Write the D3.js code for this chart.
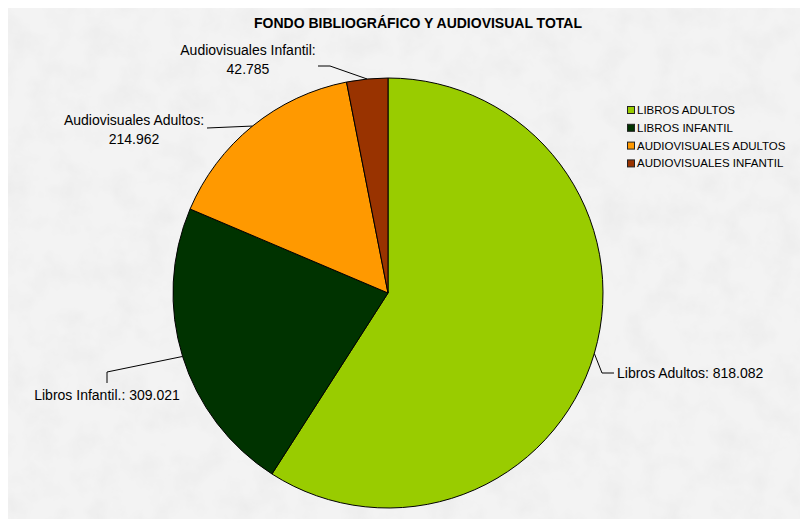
<!DOCTYPE html>
<html>
<head>
<meta charset="utf-8">
<script src="https://cdn.jsdelivr.net/npm/d3@7"></script>
<style>
  body { margin: 0; background: #fff; }
  text { font-family: "Liberation Sans", Arial, sans-serif; fill: #000; }
</style>
</head>
<body>
<div id="vis-container"></div>
<script>
// Data
const categories = ["LIBROS ADULTOS", "LIBROS INFANTIL", "AUDIOVISUALES ADULTOS", "AUDIOVISUALES INFANTIL"];
const labelNames = ["Libros Adultos:", "Libros Infantil.:", "Audiovisuales Adultos:", "Audiovisuales Infantil:"];
const values = [818082, 309021, 214962, 42785];
const colors = ["#99cc00", "#003300", "#ff9900", "#993300"];

const width = 800;
const height = 519;
const cx = 388, cy = 293, radius = 215;

const fmt = (v) => d3.format(",")(v).replace(/,/g, ".");

const svg = d3.select("#vis-container")
  .append("svg")
  .attr("width", width)
  .attr("height", height);

// marble-ish background
const defs = svg.append("defs");
const filt = defs.append("filter").attr("id", "marble")
  .attr("x", 0).attr("y", 0).attr("width", "100%").attr("height", "100%");
filt.append("feTurbulence")
  .attr("type", "fractalNoise")
  .attr("baseFrequency", 0.035)
  .attr("numOctaves", 4)
  .attr("seed", 3);
filt.append("feColorMatrix")
  .attr("type", "matrix")
  .attr("values", "0 0 0 0 0.6  0 0 0 0 0.6  0 0 0 0 0.6  0.3 0 0 0 -0.12");

svg.append("rect")
  .attr("x", 8).attr("y", 8)
  .attr("width", width - 8).attr("height", height - 8)
  .attr("fill", "#f3f3f3");
svg.append("rect")
  .attr("x", 8).attr("y", 8)
  .attr("width", width - 8).attr("height", height - 8)
  .attr("filter", "url(#marble)");

// title
svg.append("text")
  .attr("x", 418)
  .attr("y", 28)
  .attr("text-anchor", "middle")
  .attr("font-size", "14px")
  .attr("font-weight", "bold")
  .text("FONDO BIBLIOGRÁFICO Y AUDIOVISUAL TOTAL");

// pie
const pie = d3.pie().sort(null).value((d) => d);
const arcs = pie(values);
const arc = d3.arc().innerRadius(0).outerRadius(radius);

const g = svg.append("g").attr("transform", `translate(${cx},${cy})`);
g.selectAll("path")
  .data(arcs)
  .enter()
  .append("path")
  .attr("d", arc)
  .attr("fill", (d, i) => colors[i])
  .attr("stroke", "#000")
  .attr("stroke-width", 1);

// point on the pie edge at the slice middle
function edge(d) {
  const a = (d.startAngle + d.endAngle) / 2;
  return [cx + radius * Math.sin(a), cy - radius * Math.cos(a)];
}

// label layout: leader bends and text positions
const labelLayout = [
  { bend: [[602, 373], [614, 373]], lines: [[617, 378, "start"]], oneLine: true },
  { bend: [[107, 372], [107, 383]], lines: [[107, 400, "middle"]], oneLine: true },
  { bend: [[207, 128]], lines: [[134, 125, "middle"], [134, 144, "middle"]] },
  { bend: [[330, 66], [318, 66]], lines: [[248, 55, "middle"], [248, 74, "middle"]] }
];

arcs.forEach((d, i) => {
  const lay = labelLayout[i];
  const pts = [edge(d)].concat(lay.bend);
  svg.append("path")
    .attr("d", d3.line()(pts))
    .attr("fill", "none")
    .attr("stroke", "#000")
    .attr("stroke-width", 1);
  const texts = lay.oneLine
    ? [labelNames[i] + " " + fmt(values[i])]
    : [labelNames[i], fmt(values[i])];
  texts.forEach((t, j) => {
    svg.append("text")
      .attr("x", lay.lines[j][0])
      .attr("y", lay.lines[j][1])
      .attr("text-anchor", lay.lines[j][2])
      .attr("font-size", "14px")
      .text(t);
  });
});

// legend
const legend = svg.append("g").attr("transform", "translate(627,106)");
const items = legend.selectAll("g")
  .data(categories)
  .enter()
  .append("g")
  .attr("transform", (d, i) => `translate(0,${i * 17.8})`);
items.append("rect")
  .attr("x", 0.5).attr("y", 0.5)
  .attr("width", 7).attr("height", 7)
  .attr("fill", (d, i) => colors[i])
  .attr("stroke", "#222")
  .attr("stroke-width", 1);
items.append("text")
  .attr("x", 10)
  .attr("y", 8)
  .attr("font-size", "11.5px")
  .text((d) => d);
</script>
</body>
</html>
